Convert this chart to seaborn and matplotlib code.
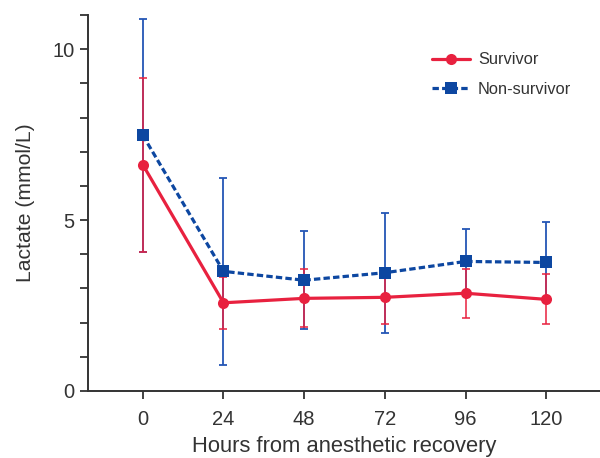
import matplotlib

matplotlib.use("Agg")
import matplotlib.pyplot as plt
import numpy as np
import pandas as pd
import seaborn as sns
from matplotlib.ticker import MultipleLocator

hours = [0, 24, 48, 72, 96, 120]
survivor_mean = [6.62, 2.58, 2.71, 2.74, 2.86, 2.68]
survivor_sd = [2.55, 0.76, 0.85, 0.78, 0.71, 0.73]
nonsurvivor_mean = [7.48, 3.50, 3.24, 3.46, 3.79, 3.76]
nonsurvivor_sd = [3.40, 2.73, 1.44, 1.75, 0.94, 1.17]

red = "#E8213F"
blue = "#0D47A1"
blue_err = "#2456B5"
text_col = "#333333"

sns.set_style("ticks")
plt.rcParams["font.family"] = ["Liberation Sans", "DejaVu Sans"]

df = pd.DataFrame(
    {
        "hours": hours * 2,
        "lactate": survivor_mean + nonsurvivor_mean,
        "group": ["Survivor"] * len(hours) + ["Non-survivor"] * len(hours),
    }
)

fig = plt.figure(figsize=(6, 4.58), dpi=100)
ax = fig.add_axes([0.1467, 0.1463, 0.8533, 0.821])

# error bars first so the lines sit on top
ax.errorbar(hours, nonsurvivor_mean, yerr=nonsurvivor_sd, fmt="none",
            ecolor=blue_err, elinewidth=1.3, capsize=2.7, capthick=1.3, zorder=2)
ax.errorbar(hours, survivor_mean, yerr=survivor_sd, fmt="none",
            ecolor=red, elinewidth=1.1, capsize=2.7, capthick=1.1, zorder=2)

sns.lineplot(
    data=df, x="hours", y="lactate", hue="group", style="group",
    hue_order=["Survivor", "Non-survivor"],
    style_order=["Survivor", "Non-survivor"],
    palette={"Survivor": red, "Non-survivor": blue},
    markers={"Survivor": "o", "Non-survivor": "s"},
    dashes={"Survivor": "", "Non-survivor": (2, 1)},
    markersize=8, markeredgewidth=0, linewidth=2.3,
    ax=ax, zorder=3,
)

ax.set_xlim(-16.3, 136)
ax.set_ylim(0, 11)
ax.set_xticks(hours)
ax.yaxis.set_major_locator(MultipleLocator(5))
ax.yaxis.set_minor_locator(MultipleLocator(1))
ax.tick_params(axis="both", which="both", direction="out", length=5.5,
               width=1.3, color=text_col, labelsize=14.5, labelcolor=text_col)
ax.tick_params(axis="y", which="major", pad=4)
ax.tick_params(axis="x", which="major", pad=8)

for side in ["top", "right"]:
    ax.spines[side].set_visible(False)
for side in ["left", "bottom"]:
    ax.spines[side].set_color(text_col)
    ax.spines[side].set_linewidth(1.4)

ax.set_xlabel("Hours from anesthetic recovery", fontsize=15.8, color=text_col, labelpad=5)
ax.set_ylabel("Lactate (mmol/L)", fontsize=15.2, color=text_col, labelpad=13)

leg = ax.legend(loc="upper left", bbox_to_anchor=(0.659, 0.918), borderaxespad=0,
                frameon=False, fontsize=11.8, handlelength=2.3,
                labelspacing=0.9, handletextpad=0.5)
for t in leg.get_texts():
    t.set_color(text_col)

fig.savefig("out.png", dpi=100)
